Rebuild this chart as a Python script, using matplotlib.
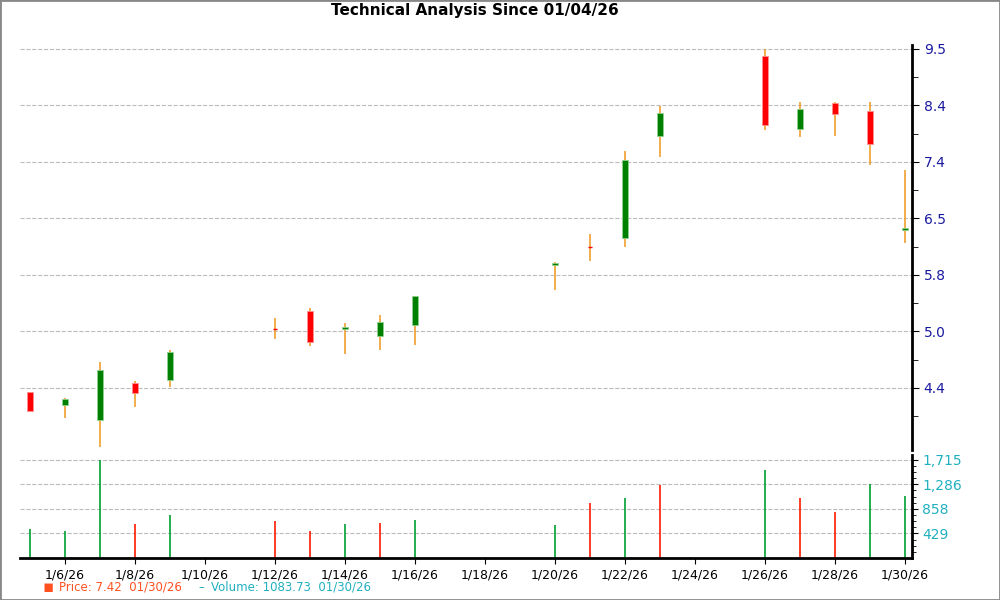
import matplotlib
matplotlib.use("Agg")
import matplotlib.pyplot as plt
from matplotlib.ticker import FixedLocator, NullFormatter
import numpy as np

days = [5, 6, 7, 8, 9, 12, 13, 14, 15, 16, 20, 21, 22, 23, 26, 27, 28, 29, 30]
opens = [4.36, 4.23, 4.09, 4.45, 4.48, 5.03, 5.24, 5.03, 4.95, 5.08, 5.82, 6.06, 6.18, 7.79, 9.35, 7.92, 8.41, 8.26, 6.30]
closes = [4.17, 4.29, 4.58, 4.35, 4.77, 5.03, 4.88, 5.05, 5.11, 5.42, 5.84, 6.06, 7.39, 8.22, 7.99, 8.30, 8.19, 7.65, 6.33]
highs = [4.36, 4.30, 4.67, 4.47, 4.79, 5.16, 5.27, 5.10, 5.19, 5.42, 5.86, 6.24, 7.53, 8.34, 9.50, 8.43, 8.43, 8.43, 7.22]
lows = [4.17, 4.11, 3.85, 4.21, 4.41, 4.92, 4.84, 4.75, 4.80, 4.85, 5.50, 5.87, 6.06, 7.43, 7.90, 7.78, 7.79, 7.30, 6.11]
volumes = [508, 473, 1715, 595, 753, 648, 473, 595, 613, 665, 578, 963, 1050, 1278, 1540, 1050, 805, 1295, 1084]
vol_up = [1, 1, 1, 0, 1, 0, 0, 1, 0, 1, 1, 0, 1, 0, 1, 0, 0, 1, 1]
price_ticks = [4.4, 5.0, 5.8, 6.5, 7.4, 8.4, 9.5]
vol_ticks = [429, 858, 1286, 1715]
vol_tick_labels = ["429", "858", "1,286", "1,715"]
date_ticks = [6, 8, 10, 12, 14, 16, 18, 20, 22, 24, 26, 28, 30]

fig = plt.figure(figsize=(10, 6), dpi=100)
fig.patches.append(plt.Rectangle((0, 0), 1, 1, transform=fig.transFigure, fill=False,
                                 edgecolor="#888888", lw=2))
ax = fig.add_axes([0.02, 0.25, 0.892, 0.675])
axv = fig.add_axes([0.02, 0.07, 0.892, 0.172], sharex=ax)

ax.set_yscale("log")
tick_pos = 4.4 * 1.137 ** np.arange(len(price_ticks))
ax.set_ylim(3.82, 9.59)
ax.yaxis.set_major_locator(FixedLocator(tick_pos))
ax.set_yticklabels([f"{v:.1f}" for v in price_ticks])
minor = [4.4 * 1.137 ** (i + 0.5) for i in range(-1, 7)]
ax.yaxis.set_minor_locator(FixedLocator(minor))
ax.yaxis.set_minor_formatter(NullFormatter())
ax.yaxis.tick_right()
ax.tick_params(axis="y", which="both", colors="black", labelcolor="#1a1aa0", labelsize=10, direction="out", length=4)
ax.tick_params(axis="y", which="major", length=5)
for s in ["top", "left", "bottom"]:
    ax.spines[s].set_visible(False)
ax.spines["right"].set_linewidth(2)
ax.grid(axis="y", which="major", color="#bbbbbb", ls="--", lw=0.8)
ax.tick_params(axis="x", which="both", bottom=False, labelbottom=False)

for d, o, c, h, l in zip(days, opens, closes, highs, lows):
    ax.vlines(d, l, h, color="#f0a030", lw=1.2, zorder=2)
    col = "#008000" if c >= o else "#ff0000"
    lo, hi = min(o, c), max(o, c)
    if hi / lo < 1.001:
        ax.hlines((o + c) / 2, d - 0.06, d + 0.06, color="#ff0000", lw=1, zorder=3)
    else:
        ax.add_patch(plt.Rectangle((d - 0.075, lo), 0.15, hi - lo, facecolor=col,
                                   edgecolor="#90d090" if c >= o else "#ff9090", lw=0.6, zorder=3))

ax.set_xlim(5 - 10 / 35, 30 + 0.2)
fig.text(0.475, 0.983, "Technical Analysis Since 01/04/26", fontsize=11, fontweight="bold",
         ha="center", va="center")

vcols = ["#00a030" if u else "#ff1a00" for u in vol_up]
axv.vlines(days, 0, volumes, colors=vcols, lw=1.2)
axv.set_ylim(0, 1803)
axv.yaxis.tick_right()
axv.set_yticks(vol_ticks)
axv.set_yticklabels(vol_tick_labels)
axv.yaxis.set_minor_locator(FixedLocator(np.arange(107, 1803, 107.25)))
axv.tick_params(axis="y", which="both", labelcolor="#20b0c0", labelsize=10, length=4)
axv.tick_params(axis="y", which="minor", length=3)
for s in ["top", "left"]:
    axv.spines[s].set_visible(False)
axv.spines["right"].set_linewidth(2)
axv.spines["bottom"].set_linewidth(2)
axv.grid(axis="y", color="#bbbbbb", ls="--", lw=0.8)
axv.set_xticks(date_ticks)
axv.set_xticklabels([f"1/{d}/26" for d in date_ticks], fontsize=9)
axv.tick_params(axis="x", length=4)

fig.text(0.043, 0.022, "\u25aa", color="#ff5020", fontsize=12, va="center")
fig.text(0.059, 0.021, "Price: 7.42  01/30/26", color="#ff5020", fontsize=8.5, va="center")
fig.text(0.198, 0.021, "\u2013", color="#20b0c0", fontsize=8.5, va="center")
fig.text(0.211, 0.021, "Volume: 1083.73  01/30/26", color="#20b0c0", fontsize=8.5, va="center")

fig.savefig("out.png", dpi=100)
